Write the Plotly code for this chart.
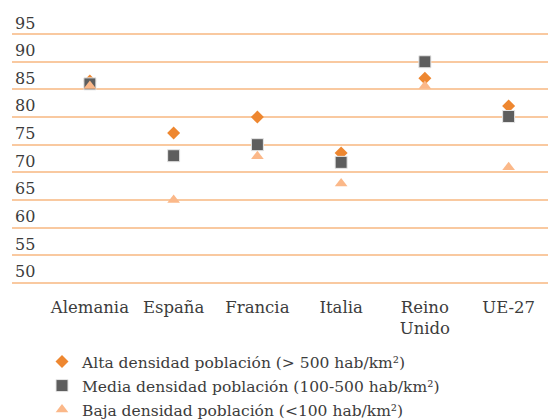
import plotly.graph_objects as go

categories = ["Alemania", "España", "Francia", "Italia", "Reino<br>Unido", "UE-27"]
alta = [86.5, 77.1, 80.0, 73.5, 87.0, 82.0]
media = [86.0, 73.0, 75.0, 71.8, 90.0, 80.1]
baja = [85.6, 65.0, 72.9, 68.0, 85.6, 70.9]
y_ticks = [50, 55, 60, 65, 70, 75, 80, 85, 90, 95]

names = ["Alta densidad población (> 500 hab/km²)",
         "Media densidad población (100-500 hab/km²)",
         "Baja densidad población (<100 hab/km²)"]

font_family = "DejaVu Serif, Liberation Serif, serif"
text_color = "#3c3c3c"
W, H = 548, 419

fig = go.Figure()
fig.add_trace(go.Scatter(x=categories, y=alta, mode="markers", name=names[0],
                         legend="legend",
                         marker=dict(symbol="diamond", size=10, color="#EE8730")))
fig.add_trace(go.Scatter(x=categories, y=media, mode="markers", name=names[1],
                         legend="legend2",
                         marker=dict(symbol="square", size=12, color="#5E5E5E",
                                     line=dict(width=1, color="#e6e6e6"))))
fig.add_trace(go.Scatter(x=categories, y=baja, mode="markers", name=names[2],
                         legend="legend3",
                         marker=dict(symbol="triangle-up", size=11, color="#FBB889")))

legend_rows = [362, 386, 410]
def leg(ypx):
    return dict(xref="container", yref="container", x=42 / W, y=1 - ypx / H,
                xanchor="left", yanchor="middle",
                font=dict(size=15.5, color=text_color, family=font_family),
                bgcolor="rgba(0,0,0,0)", borderwidth=0)

fig.update_layout(
    width=W, height=H,
    margin=dict(l=12, r=0, t=12, b=135, autoexpand=False),
    paper_bgcolor="white", plot_bgcolor="white",
    font=dict(family=font_family, size=16, color=text_color),
    showlegend=True,
    legend=leg(legend_rows[0]),
    legend2=leg(legend_rows[1]),
    legend3=leg(legend_rows[2]),
)
fig.update_xaxes(type="category", range=[-0.93, 5.47], showgrid=False,
                 showline=False, zeroline=False, ticks="",
                 ticklabelstandoff=11, tickfont=dict(size=16.5, color=text_color))
fig.update_yaxes(range=[49.8, 99], tickvals=y_ticks, showgrid=True,
                 gridcolor="#F9C9A0", gridwidth=2, zeroline=False,
                 showline=False, ticks="", ticklabelposition="inside top",
                 tickfont=dict(size=16, color=text_color))

fig.write_html("out.html",
               config={"displayModeBar": False},
               post_script="document.body.style.margin='0';document.body.style.overflow='hidden';")
